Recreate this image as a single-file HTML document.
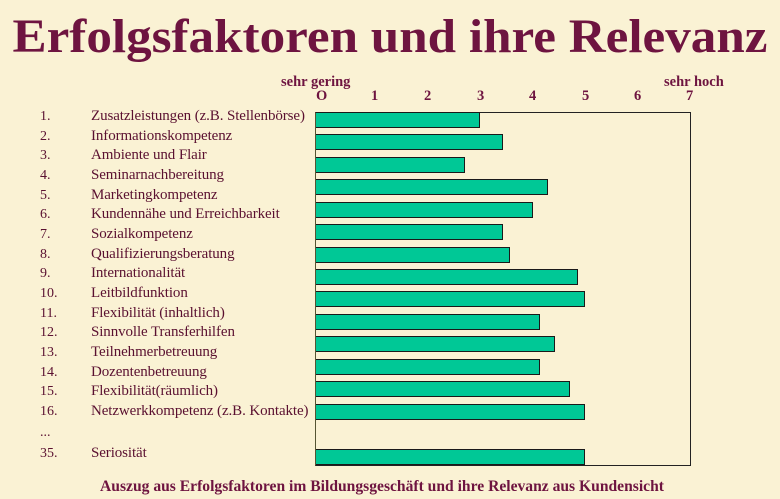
<!DOCTYPE html>
<html><head><meta charset="utf-8"><style>
body{margin:0;background:#faf2d4;width:780px;height:499px;overflow:hidden;position:relative;font-family:"Liberation Serif",serif;color:#5a1030}
.t{position:absolute;left:0;width:780px;text-align:center;top:9px;font-size:48px;font-weight:bold;color:#6e1440;transform:scaleX(1.065);transform-origin:center}
.ax{position:absolute;font-weight:bold;font-size:14.5px;color:#6e1440}
.n{position:absolute;left:40px;font-size:14px}
.l{position:absolute;left:91px;font-size:15px;white-space:nowrap;letter-spacing:-0.1px}
.box{position:absolute;left:315px;top:112px;width:374px;height:352px;border:1.5px solid #222;border-left-color:#553;}
.b{position:absolute;left:316px;height:14px;background:#00c896;border:1.5px solid #1a1a1a;border-left:none}
.cap{position:absolute;left:-8px;width:780px;text-align:center;top:478px;font-size:15.6px;font-weight:bold;color:#6e1440}
</style></head><body>
<div class="t">Erfolgsfaktoren und ihre Relevanz</div>
<div class="ax" style="left:281px;top:74px">sehr gering</div>
<div class="ax" style="left:664px;top:74px">sehr hoch</div>
<div class="ax" style="left:316px;top:88px">O</div>
<div class="ax" style="left:371px;top:88px">1</div>
<div class="ax" style="left:424px;top:88px">2</div>
<div class="ax" style="left:477px;top:88px">3</div>
<div class="ax" style="left:529px;top:88px">4</div>
<div class="ax" style="left:582px;top:88px">5</div>
<div class="ax" style="left:634px;top:88px">6</div>
<div class="ax" style="left:686px;top:88px">7</div>
<div class="box"></div>
<div class="cap">Auszug aus Erfolgsfaktoren im Bildungsgeschäft und ihre Relevanz aus Kundensicht</div>
<div class="n" style="top:109px">1.</div><div class="l" style="top:108px">Zusatzleistungen (z.B. Stellenbörse)</div>
<div class="n" style="top:129px">2.</div><div class="l" style="top:128px">Informationskompetenz</div>
<div class="n" style="top:148px">3.</div><div class="l" style="top:147px">Ambiente und Flair</div>
<div class="n" style="top:168px">4.</div><div class="l" style="top:167px">Seminarnachbereitung</div>
<div class="n" style="top:188px">5.</div><div class="l" style="top:187px">Marketingkompetenz</div>
<div class="n" style="top:207px">6.</div><div class="l" style="top:206px">Kundennähe und Erreichbarkeit</div>
<div class="n" style="top:227px">7.</div><div class="l" style="top:226px">Sozialkompetenz</div>
<div class="n" style="top:247px">8.</div><div class="l" style="top:246px">Qualifizierungsberatung</div>
<div class="n" style="top:266px">9.</div><div class="l" style="top:265px">Internationalität</div>
<div class="n" style="top:286px">10.</div><div class="l" style="top:285px">Leitbildfunktion</div>
<div class="n" style="top:306px">11.</div><div class="l" style="top:305px">Flexibilität (inhaltlich)</div>
<div class="n" style="top:325px">12.</div><div class="l" style="top:324px">Sinnvolle Transferhilfen</div>
<div class="n" style="top:345px">13.</div><div class="l" style="top:344px">Teilnehmerbetreuung</div>
<div class="n" style="top:365px">14.</div><div class="l" style="top:364px">Dozentenbetreuung</div>
<div class="n" style="top:384px">15.</div><div class="l" style="top:383px">Flexibilität(räumlich)</div>
<div class="n" style="top:404px">16.</div><div class="l" style="top:403px">Netzwerkkompetenz (z.B. Kontakte)</div>
<div class="n" style="top:425px">...</div>
<div class="n" style="top:446px">35.</div><div class="l" style="top:445px">Seriosität</div>
<div class="b" style="top:112px;width:163px"></div>
<div class="b" style="top:134px;width:186px"></div>
<div class="b" style="top:157px;width:148px"></div>
<div class="b" style="top:179px;width:231px"></div>
<div class="b" style="top:202px;width:216px"></div>
<div class="b" style="top:224px;width:186px"></div>
<div class="b" style="top:247px;width:193px"></div>
<div class="b" style="top:269px;width:261px"></div>
<div class="b" style="top:291px;width:268px"></div>
<div class="b" style="top:314px;width:223px"></div>
<div class="b" style="top:336px;width:238px"></div>
<div class="b" style="top:359px;width:223px"></div>
<div class="b" style="top:381px;width:253px"></div>
<div class="b" style="top:404px;width:268px"></div>
<div class="b" style="top:449px;width:268px"></div>
</body></html>
